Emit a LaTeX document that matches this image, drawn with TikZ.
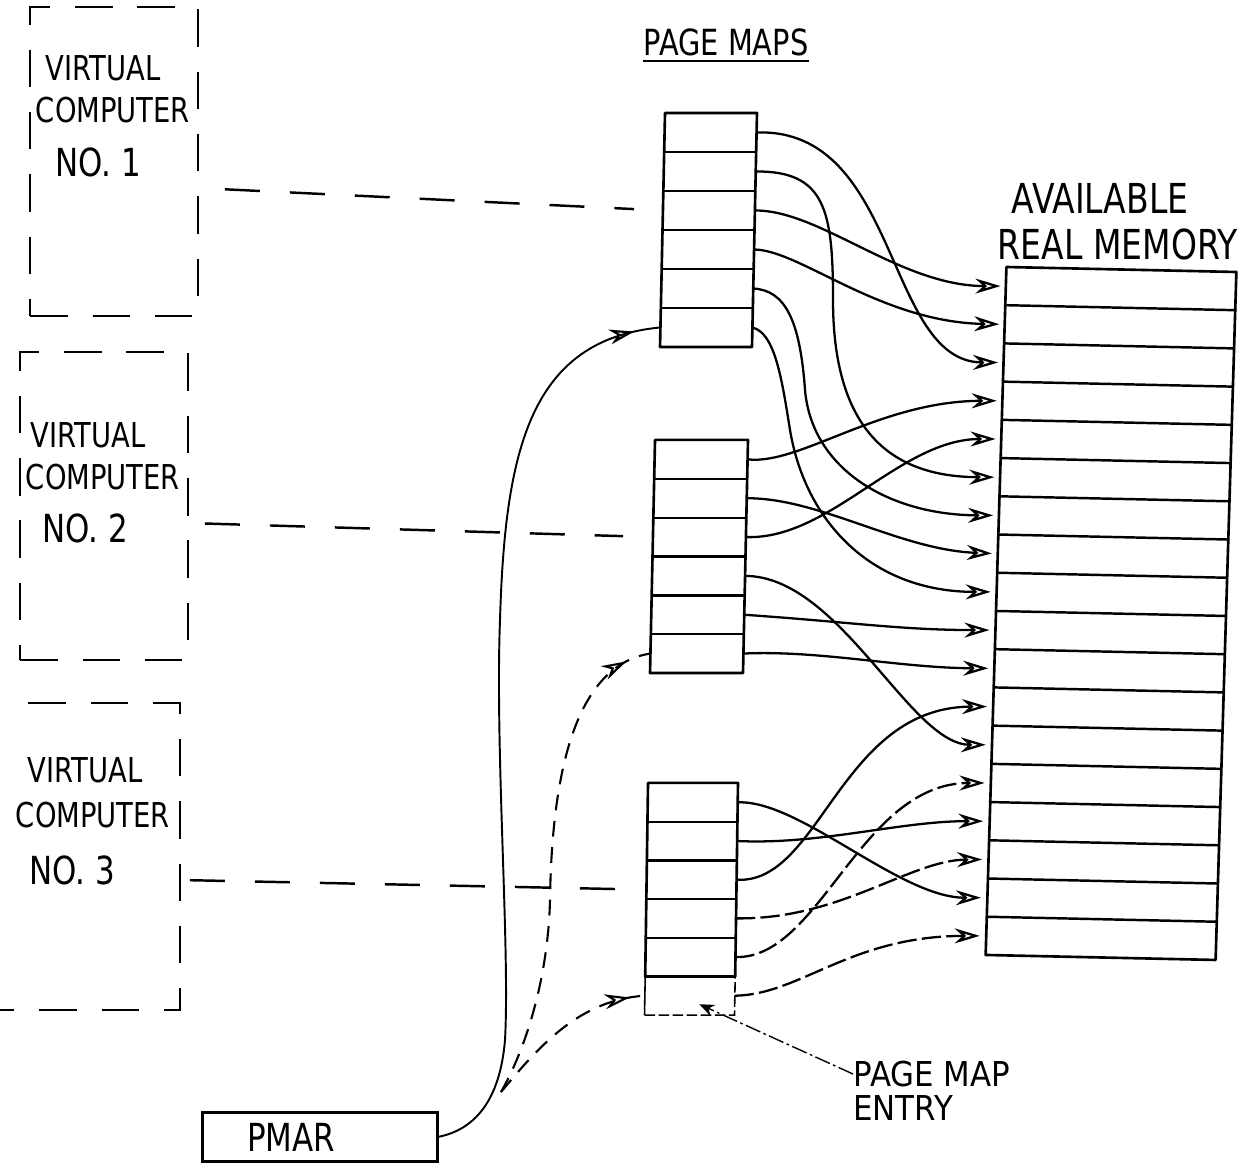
\documentclass[tikz,border=0pt]{standalone}
\usepackage{fontspec}
\newfontfamily\handfont[FakeStretch=0.8]{DejaVu Sans}
\newfontfamily\handwide[FakeStretch=0.9]{DejaVu Sans}
\usetikzlibrary{arrows.meta,decorations.markings}
\begin{document}
\begin{tikzpicture}[x=0.02cm,y=-0.02cm,
  slot/.style={inner sep=0pt, outer sep=0pt},
  pmrow/.style={slot, minimum height=0.78cm},
  memrow/.style={slot, minimum width=4.6cm, minimum height=0.7644cm},
  boxline/.style={line width=1.5pt, line join=round},
  sepline/.style={line width=1.4pt},
  entryline/.style={line width=0.9pt, dash pattern=on 6pt off 2pt},
  vcbox/.style={line width=1.4pt, dash pattern=on 0.75cm off 0.5cm, inner sep=0pt, outer sep=0pt},
  vcline/.style={line width=1.4pt, dash pattern=on 0.7cm off 0.6cm},
  conn/.style={line width=1.3pt, -{Stealth[open, length=5mm, width=3mm, line width=1.3pt]}, shorten >=0.12cm},
  broken/.style={dash pattern=on 11pt off 3pt},
  pmline/.style={line width=1.1pt},
  pmdash/.style={line width=1.2pt, dash pattern=on 9pt off 6pt},
  leader/.style={line width=0.8pt, dash pattern=on 9pt off 2pt on 1.5pt off 2pt, -{Stealth[length=3mm, width=2.4mm]}, shorten >=0.05cm},
  hand/.style={font=\handfont\fontsize{19.5}{22}\selectfont, inner sep=0pt},
  handL/.style={font=\handfont\fontsize{22}{26}\selectfont, inner sep=0pt},
  handXL/.style={font=\handfont\fontsize{23.5}{28}\selectfont, inner sep=0pt},
  handE/.style={font=\handwide\fontsize{19.5}{22}\selectfont, inner sep=0pt}
]
\useasboundingbox (0,0) rectangle (1253,1165);

% ---------- virtual computers ----------
\node[vcbox, draw, minimum width=3.36cm, minimum height=6.18cm] (vc1) at (114,161.5) {};
\node[vcbox, draw, minimum width=3.36cm, minimum height=6.16cm] (vc2) at (104,506) {};
\node[vcbox, minimum width=3.04cm, minimum height=6.14cm] (vc3) at (104,856.5) {};
\draw[vcbox] (vc3.north west) -- (vc3.north east) -- (vc3.south east) -- ([xshift=-0.6cm]vc3.south west);

\node[hand] (vc1a) at (103,68) {VIRTUAL};
\node[hand] (vc1b) at (113,110) {COMPUTER};
\node[handL] (vc1c) at (98,162) {NO. 1};
\node[hand] (vc2a) at (88,435) {VIRTUAL};
\node[hand] (vc2b) at (103,477) {COMPUTER};
\node[handL] (vc2c) at (85,528) {NO. 2};
\node[hand] (vc3a) at (85,770) {VIRTUAL};
\node[hand] (vc3b) at (93,815) {COMPUTER};
\node[handL] (vc3c) at (72,870) {NO. 3};

% ---------- page maps ----------
\node[hand, font=\handfont\fontsize{20.5}{24}\selectfont] (pagemaps) at (726,42) {PAGE MAPS};
\draw[line width=1.1pt] ([yshift=-0.11cm]pagemaps.south west) -- ([yshift=-0.11cm]pagemaps.south east);

\foreach \i in {1,...,6} {
  \node[pmrow, minimum width=1.84cm] (pa\i) at ({711-(\i-1)}, {113+39*(\i-0.5)}) {};
  \node[pmrow, minimum width=1.86cm] (pb\i) at ({701.5-(\i-1)}, {440+38.83*(\i-0.5)}) {};
  \node[pmrow, minimum width=1.80cm] (pc\i) at ({693-(\i-1)*0.7}, {783+38.67*(\i-0.5)}) {};
}
\draw[boxline] (pa1.north west) -- (pa1.north east) -- (pa6.south east) -- (pa6.south west) -- cycle;
\draw[boxline] (pb1.north west) -- (pb1.north east) -- (pb6.south east) -- (pb6.south west) -- cycle;
\draw[boxline] (pc1.north west) -- (pc1.north east) -- (pc5.south east) -- (pc5.south west) -- cycle;
\foreach \i in {1,...,5} {
  \draw[sepline] (pa\i.south west) -- (pa\i.south east);
  \draw[sepline] (pb\i.south west) -- (pb\i.south east);
}
\foreach \i in {1,...,4} {
  \draw[sepline] (pc\i.south west) -- (pc\i.south east);
}
% page map entry (last row of third map)
\draw[line width=0.9pt] (pc5.south west) -- (pc6.south west);
\draw[entryline] (pc6.south west) -- (pc6.south east) -- (pc5.south east);

% ---------- real memory ----------
\node[handXL] (avail) at (1100,198) {AVAILABLE};
\node[handXL] (realmem) at (1118,244) {REAL MEMORY};
\foreach \i in {1,...,18} {
  \node[memrow] (m\i) at ({1122-1.222*(\i-0.5)}, {267+38.22*(\i-0.5)}) {};
}
\draw[boxline] (m1.north west) -- ([yshift=-0.1cm]m1.north east) -- ([yshift=-0.1cm]m18.south east) -- (m18.south west) -- cycle;
\foreach \i in {1,...,17} {
  \draw[sepline] (m\i.south west) -- ([yshift=-0.1cm]m\i.south east);
}

% ---------- virtual computer to page map ----------
\draw[vcline, shorten <=0.54cm, shorten >=0.58cm] ([yshift=-0.53cm]vc1.east) -- (pa3.west);
\draw[vcline, shorten <=0.34cm, shorten >=0.6cm] ([yshift=-0.34cm]vc2.east) -- (pb3.west);
\draw[vcline, shorten <=0.2cm, shorten >=0.62cm] ([yshift=-0.47cm]vc3.east) -- ([yshift=-0.2cm]pc3.west);

% ---------- page map entries to real memory ----------
\draw[conn] (pa1.east) .. controls (900,128) and (885,362) .. (m3.west);
\draw[conn] (pa2.east) .. controls (825,171) and (833,210) .. (833,300) .. controls (833,440) and (900,477) .. (m6.west);
\draw[conn] (pa3.east) .. controls (820,210) and (900,286) .. (m1.west);
\draw[conn] (pa4.east) .. controls (800,250) and (880,322) .. (m2.west);
\draw[conn] (pa5.east) .. controls (785,290) and (800,320) .. (805,390) .. controls (812,470) and (890,515) .. (m7.west);
\draw[conn] (pa6.east) .. controls (775,332) and (782,380) .. (790,430) .. controls (805,520) and (870,592) .. (m9.west);
\draw[conn] (pb1.east) .. controls (800,465) and (880,401) .. (m4.west);
\draw[conn] (pb2.east) .. controls (820,498) and (900,550) .. (m8.west);
\draw[conn] (pb3.east) .. controls (830,540) and (900,439) .. (m5.west);
\draw[conn] (pb4.east) .. controls (840,576) and (910,745) .. (m13.west);
\draw[conn] (pb5.east) .. controls (850,622) and (900,630) .. (m10.west);
\draw[conn] (pb6.east) .. controls (820,650) and (900,668) .. (m11.west);
\draw[conn] (pc1.east) .. controls (800,800) and (900,898) .. (m17.west);
\draw[conn] (pc2.east) .. controls (820,845) and (900,821) .. (m15.west);
\draw[conn] (pc3.east) .. controls (820,885) and (840,707) .. (m12.west);
\draw[conn, broken] (pc4.east) .. controls (840,920) and (910,860) .. (m16.west);
\draw[conn, broken] (pc5.east) .. controls (820,960) and (860,783) .. (m14.west);
\draw[conn, broken] (pc6.east) .. controls (800,995) and (850,936) .. (m18.west);

% ---------- PMAR ----------
\node[draw, line width=1.3pt, inner sep=0pt, outer sep=0pt, minimum width=4.7cm, minimum height=0.98cm] (pmar) at (320,1137) {};
\node[handL] (pmarlbl) at (291,1137) {PMAR};
\coordinate (junc) at (501,1092);
\draw[pmline, postaction={decorate}, decoration={markings, mark=at position -0.52cm with {\arrow[line width=1.2pt]{Stealth[open, length=5mm, width=3mm]}}}]
  (pmar.east) .. controls (475,1130) and (500,1100) .. (505,1040) .. controls (510,950) and (495,750) .. (500,620) .. controls (505,450) and (530,340) .. (pa6.west);
\draw[pmdash, postaction={decorate}, decoration={markings, mark=at position -0.5cm with {\arrow[line width=1.2pt, solid]{Stealth[open, length=5mm, width=3mm]}}}]
  (junc) .. controls (525,1050) and (548,980) .. (550,900) .. controls (552,760) and (580,665) .. (pb6.west);
\draw[pmdash, postaction={decorate}, decoration={markings, mark=at position -0.3cm with {\arrow[line width=1.2pt, solid]{Stealth[open, length=5mm, width=3mm]}}}]
  (junc) .. controls (540,1045) and (580,1000) .. (pc6.west);

% ---------- page map entry label ----------
\node[handE, anchor=west] (pmeA) at (853,1074) {PAGE MAP};
\node[handE, anchor=west] (pmeB) at (853,1108) {ENTRY};
\draw[leader] (pmeA.west) -- ([xshift=0.15cm,yshift=-0.15cm]pc6.center);
\end{tikzpicture}
\end{document}
